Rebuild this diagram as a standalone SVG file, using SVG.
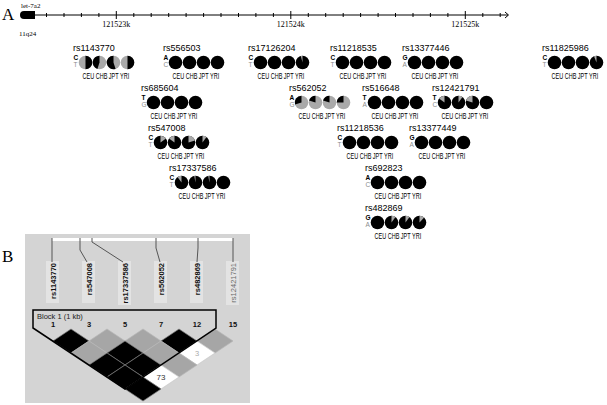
<svg xmlns="http://www.w3.org/2000/svg" width="607" height="405" viewBox="0 0 607 405">
<style>
.ser{font-family:"Liberation Serif","DejaVu Serif",serif;fill:#000}
.big{font-size:17px}
.sm{font-size:7px}
.ax{font-size:8px;text-anchor:middle}
.lbl{font-family:"Liberation Sans",Arial,sans-serif;font-size:9px;fill:#000}
.al{font-family:"Liberation Sans",Arial,sans-serif;font-size:6.5px;font-weight:bold;fill:#000}
.al2{font-family:"Liberation Sans",Arial,sans-serif;font-size:6.5px;fill:#8c8c8c}
.pop{font-family:"Liberation Sans",Arial,sans-serif;font-size:8.5px;fill:#000}
.b{fill:#000}
.g{fill:#a9a9a9}
.rot{font-family:"Liberation Sans",Arial,sans-serif;font-size:7.5px;font-weight:bold;fill:#111;text-anchor:end}
.num{font-family:"Liberation Sans",Arial,sans-serif;font-size:7.5px;font-weight:bold;fill:#111;text-anchor:middle}
.dk{fill:#000;stroke:#7a7a7a;stroke-width:0.7}
.dg{fill:#a6a6a6;stroke:#b8b8b8;stroke-width:0.7}
.dw{fill:#fff;stroke:#c8c8c8;stroke-width:0.7}
.tick{stroke:#000;stroke-width:1}
.conn{fill:none;stroke:#555;stroke-width:1}
</style>

<!-- Panel A -->
<text class="ser big" x="2" y="20">A</text>
<g id="axis">
<line x1="22" y1="15" x2="508" y2="15" class="tick"/>
<path d="M505,12 L508.5,15 L505,18" fill="none" stroke="#000" stroke-width="1"/>
<path class="tick" d="M46.5,13V17M64,13V17M81.4,13V17M98.9,13V17M116.3,11V19M133.8,13V17M151.2,13V17M168.7,13V17M186.1,13V17M203.6,13V17M221,13V17M238.5,13V17M255.9,13V17M273.4,13V17M290.8,11V19M308.3,13V17M325.7,13V17M343.2,13V17M360.6,13V17M378.1,13V17M395.5,13V17M413,13V17M430.4,13V17M447.9,13V17M465.3,11V19M482.8,13V17M500.2,13V17"/>
<text class="ser ax" x="116.3" y="27">121523k</text>
<text class="ser ax" x="290.8" y="27">121524k</text>
<text class="ser ax" x="465.3" y="27">121525k</text>
</g>
<g id="let-7a2">
<path d="M35,11 L24,11 Q20,11 20,15 Q20,19 24,19 L35,19 Z" fill="#000"/>
<text class="ser sm" x="21" y="8">let-7a2</text>
<text class="ser sm" x="19" y="36">11q24</text>
</g>

<g id="rs1143770" transform="translate(73,51)">
<text class="lbl" x="0" y="0">rs1143770</text>
<text class="al" x="0.5" y="8.5">C</text><text class="al2" x="0.5" y="16">T</text>
<g transform="translate(12.5,11.5)"><circle r="6.8" class="g"/><path class="b" d="M0,0V-6.8A6.8,6.8 0 0 1 0,6.8Z"/></g>
<g transform="translate(26.5,11.5)"><circle r="6.8" class="g"/><path class="b" d="M0,0V-6.8A6.8,6.8 0 0 0 -2.1,6.47Z"/></g>
<g transform="translate(40.5,11.5)"><circle r="6.8" class="g"/><path class="b" d="M0,0V-6.8A6.8,6.8 0 1 0 2.1,6.47Z"/></g>
<g transform="translate(54.5,11.5)"><circle r="6.8" class="g"/><path class="b" d="M0,0V-6.8A6.8,6.8 0 0 1 0,6.8Z"/></g>
<text class="pop" transform="translate(9.5,27.5) scale(0.65,1)">CEU CHB JPT YRI</text>
</g>

<g id="rs556503" transform="translate(163,51)">
<text class="lbl" x="0" y="0">rs556503</text>
<text class="al" x="0.5" y="8.5">A</text><text class="al2" x="0.5" y="16">C</text>
<circle class="b" cx="12.5" cy="11.5" r="6.8"/><circle class="b" cx="26.5" cy="11.5" r="6.8"/><circle class="b" cx="40.5" cy="11.5" r="6.8"/><circle class="b" cx="54.5" cy="11.5" r="6.8"/>
<text class="pop" transform="translate(9.5,27.5) scale(0.65,1)">CEU CHB JPT YRI</text>
</g>

<g id="rs17126204" transform="translate(248,51)">
<text class="lbl" x="0" y="0">rs17126204</text>
<text class="al" x="0.5" y="8.5">C</text><text class="al2" x="0.5" y="16">T</text>
<circle class="b" cx="12.5" cy="11.5" r="6.8"/><circle class="b" cx="26.5" cy="11.5" r="6.8"/><circle class="b" cx="40.5" cy="11.5" r="6.8"/>
<g transform="translate(54.5,11.5)"><circle r="6.8" class="b"/><path class="g" d="M0,0V-6.8A6.8,6.8 0 0 0 -1.69,-6.59Z"/></g>
<text class="pop" transform="translate(9.5,27.5) scale(0.65,1)">CEU CHB JPT YRI</text>
</g>

<g id="rs11218535" transform="translate(330,51)">
<text class="lbl" x="0" y="0">rs11218535</text>
<text class="al" x="0.5" y="8.5">C</text><text class="al2" x="0.5" y="16">T</text>
<circle class="b" cx="12.5" cy="11.5" r="6.8"/><circle class="b" cx="26.5" cy="11.5" r="6.8"/><circle class="b" cx="40.5" cy="11.5" r="6.8"/><circle class="b" cx="54.5" cy="11.5" r="6.8"/>
<text class="pop" transform="translate(9.5,27.5) scale(0.65,1)">CEU CHB JPT YRI</text>
</g>

<g id="rs13377446" transform="translate(402,51)">
<text class="lbl" x="0" y="0">rs13377446</text>
<text class="al" x="0.5" y="8.5">G</text><text class="al2" x="0.5" y="16">A</text>
<circle class="b" cx="12.5" cy="11.5" r="6.8"/><circle class="b" cx="26.5" cy="11.5" r="6.8"/><circle class="b" cx="40.5" cy="11.5" r="6.8"/><circle class="b" cx="54.5" cy="11.5" r="6.8"/>
<text class="pop" transform="translate(9.5,27.5) scale(0.65,1)">CEU CHB JPT YRI</text>
</g>

<g id="rs11825986" transform="translate(542,51)">
<text class="lbl" x="0" y="0">rs11825986</text>
<text class="al" x="0.5" y="8.5">C</text><text class="al2" x="0.5" y="16">T</text>
<circle class="b" cx="12.5" cy="11.5" r="6.8"/><circle class="b" cx="26.5" cy="11.5" r="6.8"/><circle class="b" cx="40.5" cy="11.5" r="6.8"/>
<g transform="translate(54.5,11.5)"><circle r="6.8" class="b"/><path class="g" d="M0,0V-6.8A6.8,6.8 0 0 0 -2.5,-6.32Z"/></g>
<text class="pop" transform="translate(9.5,27.5) scale(0.65,1)">CEU CHB JPT YRI</text>
</g>

<g id="rs685604" transform="translate(141,91)">
<text class="lbl" x="0" y="0">rs685604</text>
<text class="al" x="0.5" y="8.5">T</text><text class="al2" x="0.5" y="16">G</text>
<circle class="b" cx="12.5" cy="11.5" r="6.8"/><circle class="b" cx="26.5" cy="11.5" r="6.8"/><circle class="b" cx="40.5" cy="11.5" r="6.8"/><circle class="b" cx="54.5" cy="11.5" r="6.8"/>
<text class="pop" transform="translate(9.5,27.5) scale(0.65,1)">CEU CHB JPT YRI</text>
</g>

<g id="rs562052" transform="translate(289,91)">
<text class="lbl" x="0" y="0">rs562052</text>
<text class="al" x="0.5" y="8.5">A</text><text class="al2" x="0.5" y="16">G</text>
<g transform="translate(12.5,11.5)"><circle r="6.8" class="g"/><path class="b" d="M0,0V-6.8A6.8,6.8 0 0 0 -6.47,2.1Z"/></g>
<g transform="translate(26.5,11.5)"><circle r="6.8" class="g"/><path class="b" d="M0,0V-6.8A6.8,6.8 0 0 0 -6.47,-2.1Z"/></g>
<g transform="translate(40.5,11.5)"><circle r="6.8" class="g"/><path class="b" d="M0,0V-6.8A6.8,6.8 0 0 0 -6.47,-2.1Z"/></g>
<g transform="translate(54.5,11.5)"><circle r="6.8" class="g"/><path class="b" d="M0,0V-6.8A6.8,6.8 0 0 0 -6.8,0Z"/></g>
<text class="pop" transform="translate(9.5,27.5) scale(0.65,1)">CEU CHB JPT YRI</text>
</g>

<g id="rs516648" transform="translate(362,91)">
<text class="lbl" x="0" y="0">rs516648</text>
<text class="al" x="0.5" y="8.5">T</text><text class="al2" x="0.5" y="16">A</text>
<circle class="b" cx="12.5" cy="11.5" r="6.8"/><circle class="b" cx="26.5" cy="11.5" r="6.8"/><circle class="b" cx="40.5" cy="11.5" r="6.8"/><circle class="b" cx="54.5" cy="11.5" r="6.8"/>
<text class="pop" transform="translate(9.5,27.5) scale(0.65,1)">CEU CHB JPT YRI</text>
</g>

<g id="rs12421791" transform="translate(432,91)">
<text class="lbl" x="0" y="0">rs12421791</text>
<text class="al" x="0.5" y="8.5">T</text><text class="al2" x="0.5" y="16">C</text>
<g transform="translate(12.5,11.5)"><circle r="6.8" class="b"/><path class="g" d="M0,0V-6.8A6.8,6.8 0 0 0 -5.5,-4Z"/></g>
<g transform="translate(26.5,11.5)"><circle r="6.8" class="b"/><path class="g" d="M0,0V-6.8A6.8,6.8 0 0 1 4,-5.5Z"/></g>
<g transform="translate(40.5,11.5)"><circle r="6.8" class="b"/><path class="g" d="M0,0V-6.8A6.8,6.8 0 0 0 -6.47,-2.1Z"/></g>
<circle class="b" cx="54.5" cy="11.5" r="6.8"/>
<text class="pop" transform="translate(9.5,27.5) scale(0.65,1)">CEU CHB JPT YRI</text>
</g>

<g id="rs547008" transform="translate(148,131)">
<text class="lbl" x="0" y="0">rs547008</text>
<text class="al" x="0.5" y="8.5">C</text><text class="al2" x="0.5" y="16">T</text>
<g transform="translate(12.5,11.5)"><circle r="6.8" class="b"/><path class="g" d="M0,0V-6.8A6.8,6.8 0 0 1 5.5,-4Z"/></g>
<g transform="translate(26.5,11.5)"><circle r="6.8" class="b"/><path class="g" d="M0,0V-6.8A6.8,6.8 0 0 0 -5.5,-4Z"/></g>
<g transform="translate(40.5,11.5)"><circle r="6.8" class="b"/><path class="g" d="M0,0V-6.8A6.8,6.8 0 0 1 6.47,-2.1Z"/></g>
<g transform="translate(54.5,11.5)"><circle r="6.8" class="b"/><path class="g" d="M0,0V-6.8A6.8,6.8 0 0 1 4,-5.5Z"/></g>
<text class="pop" transform="translate(9.5,27.5) scale(0.65,1)">CEU CHB JPT YRI</text>
</g>

<g id="rs11218536" transform="translate(337,131)">
<text class="lbl" x="0" y="0">rs11218536</text>
<text class="al" x="0.5" y="8.5">C</text><text class="al2" x="0.5" y="16">T</text>
<circle class="b" cx="12.5" cy="11.5" r="6.8"/><circle class="b" cx="26.5" cy="11.5" r="6.8"/><circle class="b" cx="40.5" cy="11.5" r="6.8"/><circle class="b" cx="54.5" cy="11.5" r="6.8"/>
<text class="pop" transform="translate(9.5,27.5) scale(0.65,1)">CEU CHB JPT YRI</text>
</g>

<g id="rs13377449" transform="translate(409,131)">
<text class="lbl" x="0" y="0">rs13377449</text>
<text class="al" x="0.5" y="8.5">G</text><text class="al2" x="0.5" y="16">A</text>
<circle class="b" cx="12.5" cy="11.5" r="6.8"/><circle class="b" cx="26.5" cy="11.5" r="6.8"/><circle class="b" cx="40.5" cy="11.5" r="6.8"/><circle class="b" cx="54.5" cy="11.5" r="6.8"/>
<text class="pop" transform="translate(9.5,27.5) scale(0.65,1)">CEU CHB JPT YRI</text>
</g>

<g id="rs17337586" transform="translate(169,171)">
<text class="lbl" x="0" y="0">rs17337586</text>
<text class="al" x="0.5" y="8.5">C</text><text class="al2" x="0.5" y="16">T</text>
<g transform="translate(12.5,11.5)"><circle r="6.8" class="b"/><path class="g" d="M0,0V-6.8A6.8,6.8 0 0 0 -4,-5.5Z"/></g>
<g transform="translate(26.5,11.5)"><circle r="6.8" class="b"/><path class="g" d="M0,0V-6.8A6.8,6.8 0 0 0 -1.27,-6.68Z"/></g>
<g transform="translate(40.5,11.5)"><circle r="6.8" class="b"/><path class="g" d="M0,0V-6.8A6.8,6.8 0 0 0 -1.27,-6.68Z"/></g>
<circle class="b" cx="54.5" cy="11.5" r="6.8"/>
<text class="pop" transform="translate(9.5,27.5) scale(0.65,1)">CEU CHB JPT YRI</text>
</g>

<g id="rs692823" transform="translate(365,171)">
<text class="lbl" x="0" y="0">rs692823</text>
<text class="al" x="0.5" y="8.5">A</text><text class="al2" x="0.5" y="16">C</text>
<circle class="b" cx="12.5" cy="11.5" r="6.8"/><circle class="b" cx="26.5" cy="11.5" r="6.8"/><circle class="b" cx="40.5" cy="11.5" r="6.8"/><circle class="b" cx="54.5" cy="11.5" r="6.8"/>
<text class="pop" transform="translate(9.5,27.5) scale(0.65,1)">CEU CHB JPT YRI</text>
</g>

<g id="rs482869" transform="translate(365,211)">
<text class="lbl" x="0" y="0">rs482869</text>
<text class="al" x="0.5" y="8.5">G</text><text class="al2" x="0.5" y="16">A</text>
<circle class="b" cx="12.5" cy="11.5" r="6.8"/>
<g transform="translate(26.5,11.5)"><circle r="6.8" class="b"/><path class="g" d="M0,0V-6.8A6.8,6.8 0 0 1 4,-5.5Z"/></g>
<g transform="translate(40.5,11.5)"><circle r="6.8" class="b"/><path class="g" d="M0,0V-6.8A6.8,6.8 0 0 1 4,-5.5Z"/></g>
<g transform="translate(54.5,11.5)"><circle r="6.8" class="b"/><path class="g" d="M0,0V-6.8A6.8,6.8 0 0 1 4.66,-4.96Z"/></g>
<text class="pop" transform="translate(9.5,27.5) scale(0.65,1)">CEU CHB JPT YRI</text>
</g>

<!-- Panel B -->
<text class="ser big" x="2" y="262">B</text>
<rect x="25" y="234" width="225" height="169" fill="#d4d4d4"/>
<g id="label-bg" fill="#e3e3e3">
<rect x="46" y="261" width="13" height="42"/>
<rect x="82" y="261" width="13" height="42"/>
<rect x="118" y="261" width="13" height="44"/>
<rect x="154" y="261" width="13" height="42"/>
<rect x="190" y="261" width="13" height="42"/>
<rect x="226" y="261" width="13" height="44"/>
</g>
<g id="connectors">
<line x1="52" y1="239.5" x2="233" y2="239.5" stroke="#fff" stroke-width="3"/>
<path class="conn" d="M52,238V262M80,238V250L87,262M92,238V242L123,262M156,238V248L160,262M198,238V248L197,262M233,238V262"/>
</g>
<g id="snp-labels">
<text class="rot" transform="translate(55.5,263) rotate(-90)">rs1143770</text>
<text class="rot" transform="translate(91.5,263) rotate(-90)">rs547008</text>
<text class="rot" transform="translate(127.5,263) rotate(-90)">rs17337586</text>
<text class="rot" transform="translate(163.5,263) rotate(-90)">rs562052</text>
<text class="rot" transform="translate(199.5,263) rotate(-90)">rs482869</text>
<text class="rot" transform="translate(235.5,263) rotate(-90)" style="fill:#6a6a6a;font-weight:normal">rs12421791</text>
</g>
<g id="ld-plot">
<polygon class="dk" points="71,329 89,341 71,353 53,341"/>
<polygon class="dg" points="107,329 125,341 107,353 89,341"/>
<polygon class="dg" points="143,329 161,341 143,353 125,341"/>
<polygon class="dk" points="179,329 197,341 179,353 161,341"/>
<polygon class="dg" points="215,329 233,341 215,353 197,341"/>
<polygon class="dg" points="89,341 107,353 89,365 71,353"/>
<polygon class="dk" points="125,341 143,353 125,365 107,353"/>
<polygon class="dg" points="161,341 179,353 161,365 143,353"/>
<polygon class="dw" points="197,341 215,353 197,365 179,353"/>
<polygon class="dk" points="107,353 125,365 107,377 89,365"/>
<polygon class="dk" points="143,353 161,365 143,377 125,365"/>
<polygon class="dg" points="179,353 197,365 179,377 161,365"/>
<polygon class="dk" points="125,365 143,377 125,389 107,377"/>
<polygon class="dw" points="161,365 179,377 161,389 143,377"/>
<polygon class="dk" points="143,377 161,389 143,401 125,389"/>
<text x="197" y="356" style="font-family:'Liberation Sans',Arial,sans-serif;font-size:7.5px;fill:#aaa;text-anchor:middle">3</text>
<text x="161" y="380" style="font-family:'Liberation Sans',Arial,sans-serif;font-size:8px;fill:#333;text-anchor:middle">73</text>
</g>
<g id="block1">
<polygon points="33,310 216,310 216,328 125,389 33,328" fill="none" stroke="#000" stroke-width="1.5"/>
<text x="37" y="319" style="font-family:'Liberation Sans',Arial,sans-serif;font-size:7.5px;fill:#222">Block 1 (1 kb)</text>
</g>
<g id="snp-numbers">
<text class="num" x="53" y="327">1</text>
<text class="num" x="89" y="327">3</text>
<text class="num" x="125" y="327">5</text>
<text class="num" x="161" y="327">7</text>
<text class="num" x="197" y="327">12</text>
<text class="num" x="233" y="327">15</text>
</g>
</svg>
